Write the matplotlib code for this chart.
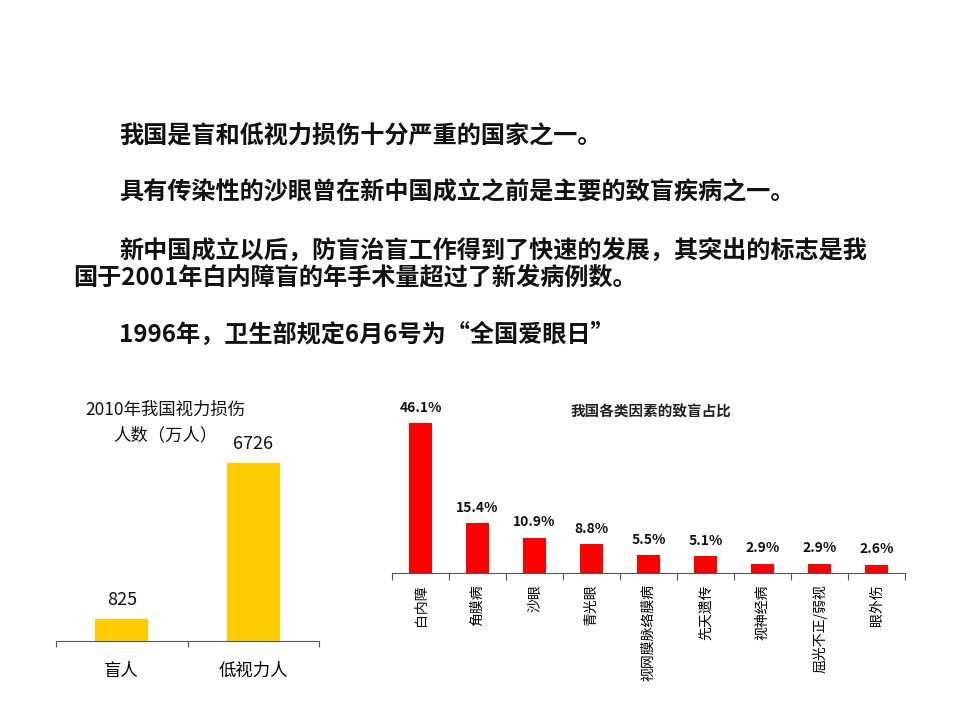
import matplotlib
matplotlib.use("Agg")
import matplotlib.pyplot as plt

plt.rcParams['font.family'] = ['Noto Sans CJK SC', 'DejaVu Sans']

# ---- data ----
intro_lines = [
    "我国是盲和低视力损伤十分严重的国家之一。",
    "具有传染性的沙眼曾在新中国成立之前是主要的致盲疾病之一。",
    "新中国成立以后，防盲治盲工作得到了快速的发展，其突出的标志是我",
    "国于2001年白内障盲的年手术量超过了新发病例数。",
    "1996年，卫生部规定6月6号为“全国爱眼日”",
]
left_title_lines = ["2010年我国视力损伤", "人数（万人）"]
left_categories = ["盲人", "低视力人"]
left_values = [825, 6726]

right_title = "我国各类因素的致盲占比"
right_categories = ["白内障", "角膜病", "沙眼", "青光眼", "视网膜脉络膜病",
                    "先天遗传", "视神经病", "屈光不正/弱视", "眼外伤"]
right_values = [46.1, 15.4, 10.9, 8.8, 5.5, 5.1, 2.9, 2.9, 2.6]

W, H = 960, 720
fig = plt.figure(figsize=(W / 100, H / 100), dpi=100)

def px(x, y):
    return x / W, 1 - y / H

# ---- intro text ----
text_pos = [(119, 137), (119, 193), (119, 251), (73, 278), (119, 335)]
for line, (x, y) in zip(intro_lines, text_pos):
    fx, fy = px(x, y)
    fig.text(fx, fy, line, fontsize=17.4, fontweight='bold', ha='left', va='center', color='#111111')

# ---- left chart ----
l_left, l_right, l_base = 56, 319, 641
l_ymax = 8000
l_h = 178 * l_ymax / 6726
axL = fig.add_axes([l_left / W, 1 - l_base / H, (l_right - l_left) / W, l_h / H])
xl = range(len(left_categories))
axL.bar(xl, left_values, width=0.4, color='#FFCC00')
axL.set_xlim(-0.5, len(left_categories) - 0.5)
axL.set_ylim(0, l_ymax)
for s in ['top', 'right', 'left']:
    axL.spines[s].set_visible(False)
axL.spines['bottom'].set_color('#555555')
axL.set_yticks([])
axL.set_xticks([i - 0.5 for i in range(len(left_categories) + 1)])
axL.set_xticklabels([])
axL.tick_params(axis='x', which='major', length=4, color='#555555', direction='out')
axL.set_xticks(list(xl), minor=True)
axL.set_xticklabels(left_categories, minor=True, fontsize=12.5)
axL.tick_params(axis='x', which='minor', length=0, pad=15)
for i, v in zip(xl, left_values):
    axL.annotate(str(v), (i, v), xytext=(0, 7), textcoords='offset points',
                 ha='center', va='bottom', fontsize=13, color='#111111')
for line, y in zip(left_title_lines, [410, 435]):
    fx, fy = px(165, y)
    fig.text(fx, fy, line, fontsize=12.5, ha='center', va='center', color='#111111')

# ---- right chart ----
r_left, r_right, r_base = 392, 905, 573
r_ymax = 50
r_h = 150 * r_ymax / 46.1
axR = fig.add_axes([r_left / W, 1 - r_base / H, (r_right - r_left) / W, r_h / H])
xr = range(len(right_categories))
axR.bar(xr, right_values, width=0.4, color='#FF0000')
axR.set_xlim(-0.5, len(right_categories) - 0.5)
axR.set_ylim(0, r_ymax)
for s in ['top', 'right', 'left']:
    axR.spines[s].set_visible(False)
axR.spines['bottom'].set_color('#555555')
axR.set_yticks([])
axR.set_xticks([i - 0.5 for i in range(len(right_categories) + 1)])
axR.set_xticklabels([])
axR.tick_params(axis='x', which='major', length=5, color='#555555', direction='out')
axR.set_xticks(list(xr), minor=True)
axR.set_xticklabels(right_categories, minor=True, fontsize=10, rotation=90, va='top')
axR.tick_params(axis='x', which='minor', length=0, pad=8)
for i, v in zip(xr, right_values):
    axR.annotate(f"{v}%", (i, v), xytext=(0, 6), textcoords='offset points',
                 ha='center', va='bottom', fontsize=10, fontweight='bold', color='#111111')
fx, fy = px(651, 411)
fig.text(fx, fy, right_title, fontsize=10.5, fontweight='bold', ha='center', va='center', color='#222222')

fig.savefig("out.png", dpi=100)
